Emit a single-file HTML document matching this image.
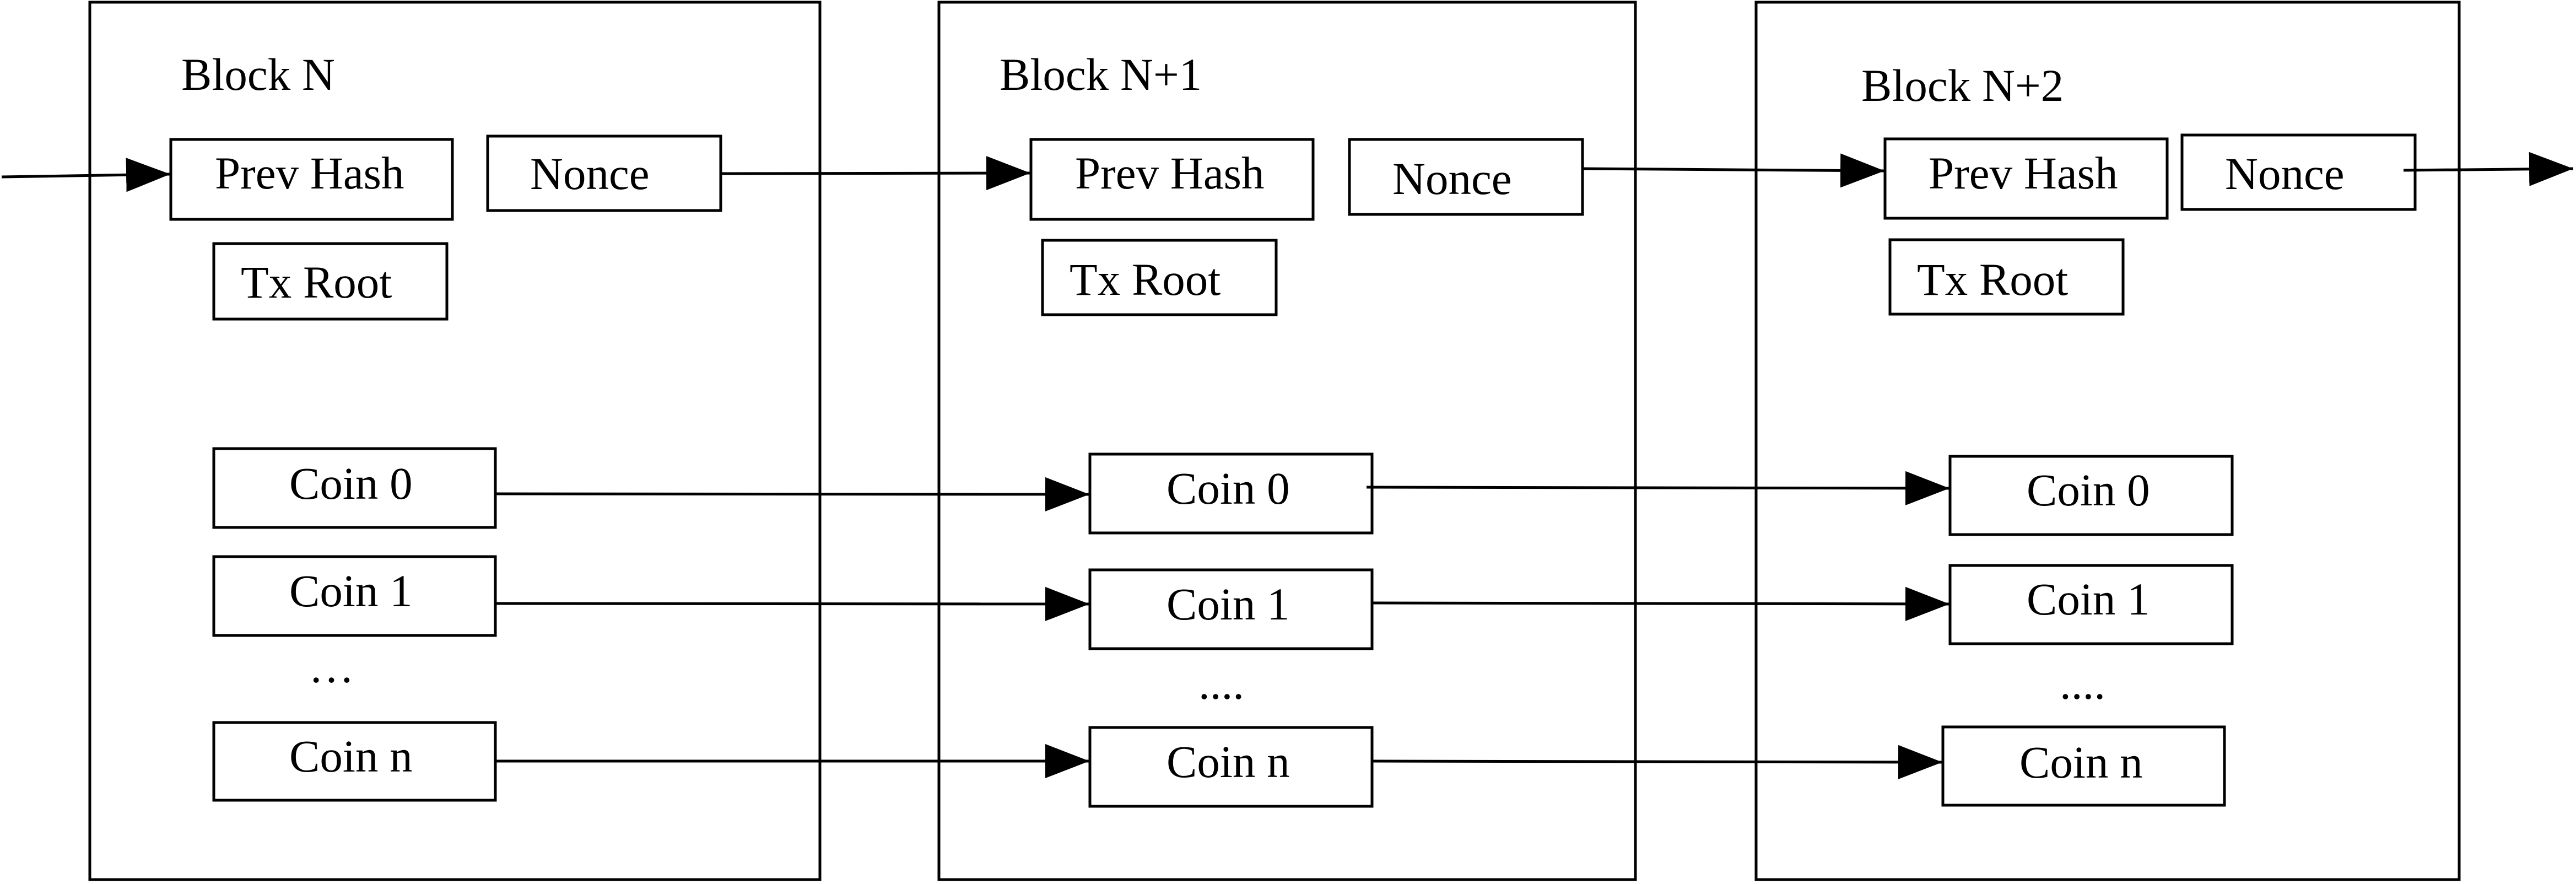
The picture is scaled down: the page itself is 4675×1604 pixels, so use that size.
<!DOCTYPE html>
<html><head><meta charset="utf-8"><style>
html,body{margin:0;padding:0;background:#fff;}
svg{display:block;}
text{font-family:"Liberation Serif",serif;font-size:83px;fill:#000;}
</style></head><body>
<svg width="4675" height="1604" viewBox="0 0 4675 1604" xmlns="http://www.w3.org/2000/svg">
<defs>
<marker id="ah" markerUnits="userSpaceOnUse" markerWidth="82" markerHeight="62" refX="80" refY="31" orient="auto">
<path d="M0,0 L80,31 L0,62 Z" fill="#000"/>
</marker>
</defs>
<g fill="none" stroke="#000" stroke-width="5">
<rect x="163" y="4" width="1325" height="1592"/>
<rect x="1704" y="4" width="1264" height="1592"/>
<rect x="3187" y="4" width="1276" height="1592"/>
<!-- block 1 -->
<rect x="310" y="253" width="511" height="145"/>
<rect x="885" y="247" width="423" height="135"/>
<rect x="388" y="442" width="423" height="137"/>
<rect x="388" y="814" width="511" height="143"/>
<rect x="388" y="1010" width="511" height="143"/>
<rect x="388" y="1311" width="511" height="141"/>
<!-- block 2 -->
<rect x="1871" y="253" width="512" height="145"/>
<rect x="2449" y="253" width="423" height="136"/>
<rect x="1892" y="436" width="424" height="135"/>
<rect x="1978" y="824" width="512" height="143"/>
<rect x="1978" y="1034" width="512" height="143"/>
<rect x="1978" y="1320" width="512" height="143"/>
<!-- block 3 -->
<rect x="3421" y="252" width="512" height="144"/>
<rect x="3960" y="245" width="423" height="135"/>
<rect x="3430" y="435" width="423" height="135"/>
<rect x="3539" y="828" width="512" height="142"/>
<rect x="3539" y="1026" width="512" height="142"/>
<rect x="3526" y="1319" width="511" height="142"/>
<!-- connectors -->
<line x1="3" y1="321" x2="309" y2="316" marker-end="url(#ah)"/>
<line x1="1308" y1="315" x2="1870" y2="314" marker-end="url(#ah)"/>
<line x1="2872" y1="306" x2="3420" y2="310" marker-end="url(#ah)"/>
<line x1="4362" y1="309" x2="4670" y2="306" marker-end="url(#ah)"/>
<line x1="899" y1="896" x2="1977" y2="897" marker-end="url(#ah)"/>
<line x1="899" y1="1095" x2="1977" y2="1096" marker-end="url(#ah)"/>
<line x1="899" y1="1381" x2="1977" y2="1381" marker-end="url(#ah)"/>
<line x1="2480" y1="884" x2="3538" y2="886" marker-end="url(#ah)"/>
<line x1="2490" y1="1094" x2="3538" y2="1096" marker-end="url(#ah)"/>
<line x1="2490" y1="1381" x2="3525" y2="1383" marker-end="url(#ah)"/>
</g>
<text x="329" y="163">Block N</text>
<text x="390" y="342">Prev Hash</text>
<text x="962" y="343">Nonce</text>
<text x="437" y="540">Tx Root</text>
<text x="525" y="905">Coin 0</text>
<text x="525" y="1100">Coin 1</text>
<text x="560" y="1238">…</text>
<text x="525" y="1400">Coin n</text>

<text x="1814" y="163">Block N+1</text>
<text x="1951" y="342">Prev Hash</text>
<text x="2527" y="352">Nonce</text>
<text x="1941" y="535">Tx Root</text>
<text x="2117" y="914">Coin 0</text>
<text x="2117" y="1124">Coin 1</text>
<text x="2175" y="1268">....</text>
<text x="2117" y="1410">Coin n</text>

<text x="3378" y="183">Block N+2</text>
<text x="3500" y="342">Prev Hash</text>
<text x="4038" y="343">Nonce</text>
<text x="3479" y="535">Tx Root</text>
<text x="3678" y="917">Coin 0</text>
<text x="3678" y="1115">Coin 1</text>
<text x="3738" y="1268">....</text>
<text x="3665" y="1411">Coin n</text>
</svg>
</body></html>
